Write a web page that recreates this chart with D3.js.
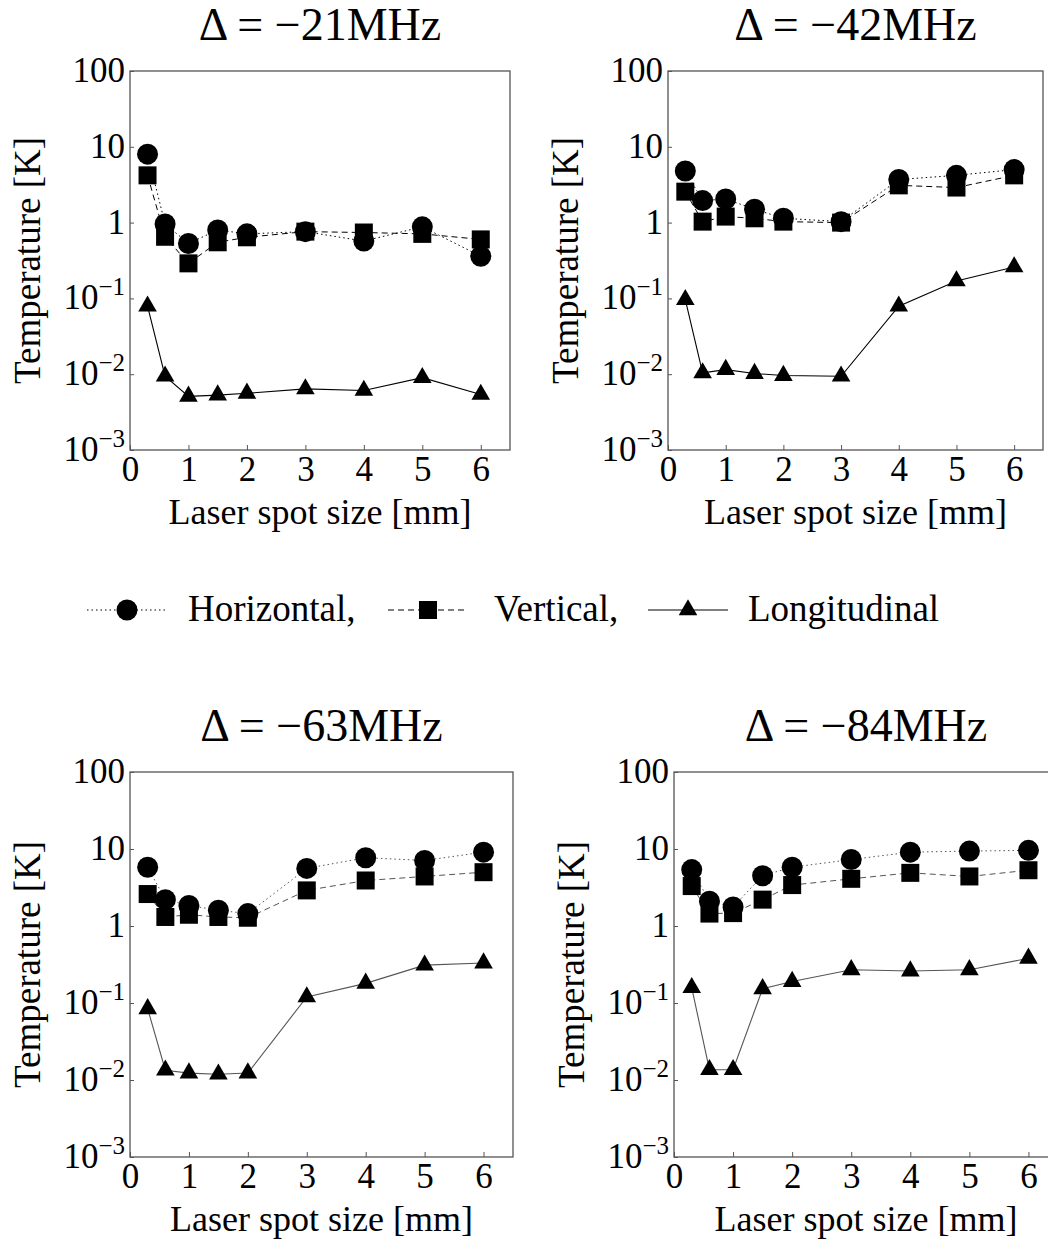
<!DOCTYPE html>
<html>
  <head>
    <meta charset="utf-8" />
    <title>Temperature vs laser spot size</title>
    <script src="https://d3js.org/d3.v7.min.js"></script>
    <style>
      body { margin: 0; background: #fff; }
      text { font-family: "Liberation Serif", "DejaVu Serif", serif; fill: #000; }
    </style>
  </head>
  <body>
    <svg id="chart"></svg>
    <script>
      // spot sizes in mm (x values, same for every panel)
      var spotSizes = [0.3, 0.6, 1, 1.5, 2, 3, 4, 5, 6];
      var detunings = ["\u221221", "\u221242", "\u221263", "\u221284"];

      // temperatures [K]
      var horiz21 = [8.0, 0.96, 0.53, 0.80, 0.71, 0.76, 0.57, 0.88, 0.36];
      var vert21  = [4.2, 0.65, 0.29, 0.55, 0.64, 0.76, 0.74, 0.71, 0.60];
      var long21  = [0.079, 0.0094, 0.0051, 0.0053, 0.0056, 0.0064, 0.0061, 0.0090, 0.0054];

      var horiz42 = [4.8, 1.95, 2.05, 1.50, 1.14, 1.03, 3.7, 4.2, 5.0];
      var vert42  = [2.56, 1.03, 1.2, 1.14, 1.03, 1.0, 3.1, 2.9, 4.2];
      var long42  = [0.096, 0.0104, 0.0115, 0.0102, 0.0096, 0.0094, 0.079, 0.17, 0.26];

      var horiz63 = [5.8, 2.2, 1.85, 1.60, 1.45, 5.6, 7.7, 7.1, 9.1];
      var vert63  = [2.6, 1.31, 1.40, 1.31, 1.28, 2.9, 3.9, 4.4, 5.0];
      var long63  = [0.084, 0.0134, 0.0123, 0.0119, 0.0123, 0.120, 0.18, 0.31, 0.33];

      var horiz84 = [5.4, 2.1, 1.77, 4.5, 5.8, 7.3, 9.1, 9.4, 9.6];
      var vert84  = [3.3, 1.45, 1.47, 2.2, 3.4, 4.1, 4.9, 4.4, 5.3];
      var long84  = [0.158, 0.0136, 0.0136, 0.153, 0.19, 0.27, 0.26, 0.27, 0.38];

      var xTicks = [0, 1, 2, 3, 4, 5, 6];
      var yTicks = [1e-3, 1e-2, 1e-1, 1, 10, 100];
      var yTickLabels = [["10", "\u22123"], ["10", "\u22122"], ["10", "\u22121"], ["1", ""], ["10", ""], ["100", ""]];

      var width = 1048, height = 1246;
      var svg = d3.select("#chart").attr("width", width).attr("height", height);

      var panels = [
        {det: detunings[0], h: horiz21, v: vert21, l: long21, left: 130, top: 71, right: 510, bottom: 450, lineColor: "#000"},
        {det: detunings[1], h: horiz42, v: vert42, l: long42, left: 668, top: 71, right: 1043, bottom: 450, lineColor: "#000"},
        {det: detunings[2], h: horiz63, v: vert63, l: long63, left: 130, top: 772, right: 513, bottom: 1157, lineColor: "#555"},
        {det: detunings[3], h: horiz84, v: vert84, l: long84, left: 674, top: 772, right: 1058, bottom: 1157, lineColor: "#555"}
      ];

      var circleSym = d3.symbol().type(d3.symbolCircle).size(Math.PI * 10.5 * 10.5);
      var squareSym = d3.symbol().type(d3.symbolSquare).size(18 * 18);
      var triSym = d3.symbol().type(d3.symbolTriangle).size(150);

      panels.forEach(function(p) {
        var g = svg.append("g");
        var x = d3.scaleLinear().domain([0, 6.5]).range([p.left, p.right]);
        var y = d3.scaleLog().domain([1e-3, 100]).range([p.bottom, p.top]);

        // frame
        g.append("rect")
          .attr("x", p.left).attr("y", p.top)
          .attr("width", p.right - p.left).attr("height", p.bottom - p.top)
          .attr("fill", "none").attr("stroke", "#555").attr("stroke-width", 1.3);

        // x axis
        var xAxis = d3.axisBottom(x).tickValues(xTicks).tickFormat(d3.format("d"))
          .tickSizeInner(-5).tickSizeOuter(0).tickPadding(6);
        var xg = g.append("g").attr("transform", "translate(0," + p.bottom + ")").call(xAxis);
        xg.select(".domain").remove();
        xg.selectAll("line").attr("stroke", "#555");
        xg.selectAll("text").attr("font-size", 35);

        // y axis
        var yAxis = d3.axisLeft(y).tickValues(yTicks).tickSizeInner(-4).tickSizeOuter(0).tickFormat("");
        var yg = g.append("g").attr("transform", "translate(" + p.left + ",0)").call(yAxis);
        yg.select(".domain").remove();
        yg.selectAll("line").attr("stroke", "#555");
        yTicks.forEach(function(t, i) {
          var lab = g.append("text")
            .attr("x", p.left - 5).attr("y", y(t) + 11)
            .attr("text-anchor", "end").attr("font-size", 35);
          lab.append("tspan").text(yTickLabels[i][0]);
          if (yTickLabels[i][1]) {
            lab.append("tspan").attr("dy", -14).attr("font-size", 25).text(yTickLabels[i][1]);
          }
        });

        // labels and title
        g.append("text")
          .attr("x", (p.left + p.right) / 2).attr("y", p.bottom + 74)
          .attr("text-anchor", "middle").attr("font-size", 36)
          .text("Laser spot size [mm]");
        g.append("text")
          .attr("transform", "translate(" + (p.left - 90) + "," + ((p.top + p.bottom) / 2) + ") rotate(-90)")
          .attr("text-anchor", "middle").attr("font-size", 37)
          .text("Temperature [K]");
        g.append("text")
          .attr("x", (p.left + p.right) / 2).attr("y", p.top - 31)
          .attr("text-anchor", "middle").attr("font-size", 46)
          .text("\u0394 = " + p.det + "MHz");

        var line = d3.line()
          .x(function(d, i) { return x(spotSizes[i]); })
          .y(function(d) { return y(d); });

        g.append("path").attr("d", line(p.h)).attr("fill", "none")
          .attr("stroke", p.lineColor).attr("stroke-width", 1).attr("stroke-dasharray", "1.5,3");
        g.append("path").attr("d", line(p.v)).attr("fill", "none")
          .attr("stroke", p.lineColor).attr("stroke-width", 1).attr("stroke-dasharray", "6,4");
        g.append("path").attr("d", line(p.l)).attr("fill", "none")
          .attr("stroke", p.lineColor).attr("stroke-width", 1.1);

        g.selectAll(".sq").data(p.v).enter().append("path")
          .attr("transform", function(d, i) { return "translate(" + x(spotSizes[i]) + "," + y(d) + ")"; })
          .attr("d", squareSym).attr("fill", "#000");
        g.selectAll(".ci").data(p.h).enter().append("path")
          .attr("transform", function(d, i) { return "translate(" + x(spotSizes[i]) + "," + y(d) + ")"; })
          .attr("d", circleSym).attr("fill", "#000");
        g.selectAll(".tr").data(p.l).enter().append("path")
          .attr("transform", function(d, i) { return "translate(" + x(spotSizes[i]) + "," + y(d) + ")"; })
          .attr("d", triSym).attr("fill", "#000");
      });

      // legend
      var legendItems = [
        {label: "Horizontal,", sym: circleSym, dash: "1.5,3", cx: 127, tx: 188},
        {label: "Vertical,", sym: squareSym, dash: "6,4", cx: 428, tx: 494},
        {label: "Longitudinal", sym: triSym, dash: null, cx: 688, tx: 748}
      ];
      var leg = svg.append("g");
      legendItems.forEach(function(it) {
        leg.append("line")
          .attr("x1", it.cx - 40).attr("x2", it.cx + 40).attr("y1", 610).attr("y2", 610)
          .attr("stroke", "#000").attr("stroke-width", 1)
          .attr("stroke-dasharray", it.dash);
        leg.append("path").attr("transform", "translate(" + it.cx + ",610)").attr("d", it.sym).attr("fill", "#000");
        leg.append("text").attr("x", it.tx).attr("y", 621).attr("font-size", 37).text(it.label);
      });
    </script>
  </body>
</html>
